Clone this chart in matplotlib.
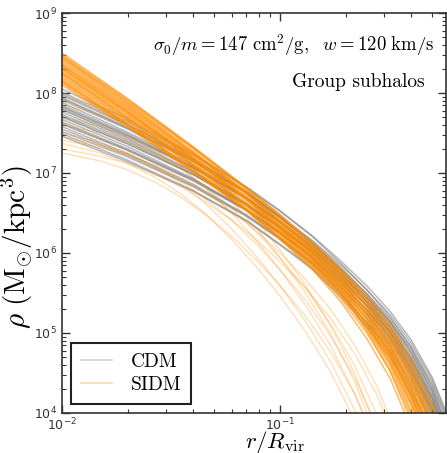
import numpy as np
import matplotlib
matplotlib.use("Agg")
from matplotlib import pyplot as plt
from matplotlib.lines import Line2D

radii = [0.01, 0.02, 0.04, 0.07, 0.1, 0.14, 0.19, 0.25, 0.32, 0.4, 0.5, 0.62]
cored_radii = [0.01, 0.015, 0.02, 0.027, 0.035, 0.045, 0.06, 0.08, 0.1,
               0.13, 0.17, 0.22, 0.28, 0.36]

# log10 density (Msun/kpc^3), CDM subhalos
cdm_logrho = [
    [8.05, 7.67, 7.24, 6.83, 6.53, 6.22, 5.90, 5.59, 5.27, 4.91, 4.44, 3.81],
    [7.97, 7.60, 7.17, 6.77, 6.46, 6.16, 5.85, 5.54, 5.23, 4.87, 4.41, 3.78],
    [7.94, 7.57, 7.16, 6.76, 6.45, 6.15, 5.82, 5.49, 5.15, 4.76, 4.28, 3.63],
    [7.88, 7.51, 7.10, 6.70, 6.40, 6.10, 5.79, 5.49, 5.18, 4.83, 4.37, 3.75],
    [7.85, 7.49, 7.08, 6.69, 6.39, 6.09, 5.76, 5.44, 5.11, 4.72, 4.24, 3.60],
    [7.82, 7.47, 7.07, 6.68, 6.39, 6.07, 5.73, 5.39, 5.03, 4.62, 4.12, 3.45],
    [7.79, 7.43, 7.02, 6.62, 6.33, 6.04, 5.74, 5.44, 5.14, 4.79, 4.34, 3.72],
    [7.76, 7.41, 7.01, 6.61, 6.32, 6.03, 5.71, 5.39, 5.06, 4.69, 4.21, 3.57],
    [7.73, 7.39, 6.99, 6.60, 6.32, 6.01, 5.68, 5.34, 4.99, 4.58, 4.09, 3.42],
    [7.67, 7.33, 6.93, 6.55, 6.26, 5.97, 5.65, 5.34, 5.02, 4.65, 4.17, 3.54],
    [7.64, 7.30, 6.92, 6.54, 6.25, 5.95, 5.62, 5.29, 4.94, 4.54, 4.05, 3.39],
    [7.61, 7.28, 6.90, 6.53, 6.24, 5.94, 5.59, 5.23, 4.87, 4.44, 3.92, 3.24],
    [7.58, 7.24, 6.86, 6.48, 6.19, 5.89, 5.57, 5.24, 4.90, 4.50, 4.01, 3.36],
    [7.55, 7.22, 6.84, 6.47, 6.18, 5.88, 5.54, 5.18, 4.82, 4.40, 3.89, 3.21],
    [7.49, 7.16, 6.78, 6.41, 6.11, 5.82, 5.48, 5.13, 4.78, 4.36, 3.85, 3.18],
    [7.46, 7.14, 6.77, 6.40, 6.10, 5.80, 5.45, 5.08, 4.70, 4.25, 3.72, 3.03],
    [7.52, 7.20, 6.83, 6.46, 6.17, 5.86, 5.51, 5.13, 4.75, 4.29, 3.76, 3.06],
    [7.80, 7.45, 7.06, 6.68, 6.38, 6.06, 5.70, 5.33, 4.96, 4.52, 3.99, 3.30],
    [7.91, 7.55, 7.14, 6.75, 6.45, 6.13, 5.79, 5.44, 5.08, 4.66, 4.16, 3.48],
    [8.01, 7.64, 7.22, 6.82, 6.52, 6.21, 5.87, 5.54, 5.20, 4.81, 4.31, 3.66],
    [7.70, 7.36, 6.98, 6.60, 6.31, 6.00, 5.65, 5.28, 4.92, 4.48, 3.96, 3.27],
    [7.99, 7.61, 7.18, 6.77, 6.44, 6.12, 5.76, 5.38, 5.01, 4.56, 4.03, 3.33],
    [7.93, 7.56, 7.15, 6.75, 6.44, 6.13, 5.80, 5.47, 5.13, 4.75, 4.27, 3.63],
    [7.83, 7.47, 7.07, 6.68, 6.38, 6.07, 5.74, 5.41, 5.07, 4.68, 4.19, 3.54],
    [7.71, 7.37, 6.98, 6.60, 6.31, 6.01, 5.68, 5.35, 5.01, 4.61, 4.12, 3.46],
    [7.62, 7.29, 6.91, 6.54, 6.25, 5.95, 5.62, 5.29, 4.95, 4.55, 4.06, 3.40],
]

# log10 density, SIDM subhalos with steep (collapsed) centres
sidm_logrho = [
    [8.50, 7.93, 7.33, 6.82, 6.48, 6.14, 5.81, 5.48, 5.11, 4.67, 4.11, 3.45],
    [8.48, 7.92, 7.32, 6.81, 6.47, 6.13, 5.78, 5.43, 5.04, 4.57, 3.98, 3.30],
    [8.46, 7.90, 7.31, 6.81, 6.47, 6.11, 5.75, 5.38, 4.96, 4.46, 3.86, 3.15],
    [8.44, 7.87, 7.27, 6.76, 6.41, 6.08, 5.76, 5.43, 5.07, 4.63, 4.08, 3.42],
    [8.42, 7.86, 7.26, 6.76, 6.40, 6.07, 5.73, 5.38, 5.00, 4.53, 3.95, 3.27],
    [8.40, 7.84, 7.25, 6.75, 6.40, 6.05, 5.70, 5.33, 4.92, 4.42, 3.83, 3.12],
    [8.38, 7.83, 7.24, 6.74, 6.39, 6.04, 5.67, 5.27, 4.85, 4.32, 3.70, 2.97],
    [8.36, 7.81, 7.23, 6.74, 6.38, 6.02, 5.64, 5.22, 4.77, 4.21, 3.57, 2.82],
    [8.34, 7.78, 7.19, 6.69, 6.34, 6.01, 5.67, 5.33, 4.95, 4.49, 3.91, 3.24],
    [8.32, 7.77, 7.18, 6.69, 6.34, 5.99, 5.64, 5.28, 4.87, 4.38, 3.79, 3.09],
    [8.30, 7.75, 7.17, 6.68, 6.33, 5.98, 5.61, 5.22, 4.80, 4.28, 3.66, 2.94],
    [8.28, 7.74, 7.16, 6.67, 6.32, 5.96, 5.58, 5.17, 4.72, 4.17, 3.53, 2.79],
    [8.26, 7.72, 7.15, 6.67, 6.31, 5.94, 5.54, 5.10, 4.62, 4.03, 3.36, 2.59],
    [8.31, 7.76, 7.18, 6.68, 6.30, 5.92, 5.50, 5.03, 4.52, 3.89, 3.19, 2.39],
    [8.24, 7.69, 7.11, 6.61, 6.27, 5.93, 5.59, 5.23, 4.83, 4.34, 3.75, 3.06],
    [8.22, 7.68, 7.10, 6.61, 6.26, 5.92, 5.56, 5.17, 4.75, 4.24, 3.63, 2.91],
    [8.20, 7.66, 7.09, 6.60, 6.25, 5.90, 5.53, 5.12, 4.68, 4.13, 3.50, 2.76],
    [8.18, 7.65, 7.08, 6.59, 6.24, 5.88, 5.49, 5.05, 4.58, 3.99, 3.33, 2.56],
    [8.16, 7.62, 7.04, 6.55, 6.20, 5.86, 5.50, 5.12, 4.71, 4.20, 3.59, 2.88],
    [8.14, 7.60, 7.03, 6.54, 6.19, 5.84, 5.47, 5.07, 4.63, 4.09, 3.46, 2.73],
    [8.12, 7.59, 7.02, 6.54, 6.18, 5.82, 5.43, 5.00, 4.53, 3.95, 3.29, 2.53],
    [8.10, 7.57, 7.01, 6.53, 6.17, 5.80, 5.39, 4.93, 4.43, 3.81, 3.12, 2.33],
    [8.45, 7.89, 7.30, 6.79, 6.44, 6.09, 5.73, 5.35, 4.94, 4.44, 3.84, 3.14],
    [8.35, 7.80, 7.21, 6.71, 6.36, 6.01, 5.64, 5.25, 4.83, 4.31, 3.70, 2.98],
    [8.25, 7.70, 7.13, 6.64, 6.29, 5.94, 5.57, 5.18, 4.75, 4.22, 3.60, 2.88],
    [8.15, 7.61, 7.05, 6.56, 6.22, 5.87, 5.50, 5.10, 4.66, 4.12, 3.49, 2.76],
]

# log10 density, SIDM subhalos with a flat core (the faint strays)
sidm_cored_logrho = [
    [7.25, 7.15, 7.04, 6.88, 6.70, 6.49, 6.21, 5.88, 5.59, 5.22, 4.77, 4.24, 3.61, 2.74],
    [7.37, 7.25, 7.12, 6.94, 6.74, 6.50, 6.17, 5.79, 5.46, 5.03, 4.52, 3.91, 3.19, 2.18],
    [7.41, 7.32, 7.23, 7.09, 6.94, 6.76, 6.52, 6.25, 6.00, 5.68, 5.30, 4.85, 4.32, 3.57],
    [7.50, 7.38, 7.25, 7.07, 6.87, 6.63, 6.30, 5.92, 5.59, 5.16, 4.65, 4.04, 3.32, 2.31],
    [7.60, 7.50, 7.39, 7.23, 7.05, 6.84, 6.56, 6.23, 5.94, 5.57, 5.12, 4.59, 3.96, 3.09],
    [7.70, 7.58, 7.45, 7.27, 7.07, 6.83, 6.50, 6.12, 5.79, 5.36, 4.85, 4.24, 3.52, 2.51],
    [7.85, 7.73, 7.60, 7.42, 7.22, 6.98, 6.65, 6.27, 5.94, 5.51, 5.00, 4.39, 3.67, 2.66],
    [7.30, 7.21, 7.12, 6.98, 6.83, 6.65, 6.41, 6.14, 5.89, 5.57, 5.19, 4.74, 4.21, 3.46],
    [7.45, 7.35, 7.24, 7.08, 6.90, 6.69, 6.41, 6.08, 5.79, 5.42, 4.97, 4.44, 3.81, 2.94],
    [7.95, 7.83, 7.70, 7.52, 7.32, 7.08, 6.75, 6.37, 6.04, 5.61, 5.10, 4.49, 3.77, 2.76],
]

plt.rcParams['mathtext.fontset'] = 'cm'
plt.rcParams['font.family'] = 'DejaVu Sans'

cdm_color = 'gray'
sidm_color = 'darkorange'

fig = plt.figure(figsize=(4.47, 4.53), dpi=100)
ax = fig.add_axes([62 / 447, 1 - 413 / 453, 383.5 / 447, 400 / 453])

for row in cdm_logrho:
    ax.plot(radii, 10 ** np.array(row), color=cdm_color, alpha=0.55, lw=1.1)
for row in sidm_logrho:
    ax.plot(radii, 10 ** np.array(row), color=sidm_color, alpha=0.6, lw=1.1)
for row in sidm_cored_logrho:
    ax.plot(cored_radii, 10 ** np.array(row), color=sidm_color, alpha=0.28, lw=1.0)

ax.set_xscale('log')
ax.set_yscale('log')
ax.set_xlim(0.01, 0.574)
ax.set_ylim(1e4, 1e9)

ax.tick_params(which='both', direction='in', top=True, right=True,
               labelsize=9, labelcolor='#333333', color='#333333')
ax.tick_params(which='major', length=6, width=1)
ax.tick_params(which='minor', length=3, width=0.8)
ax.tick_params(axis='x', pad=2.5)
for sp in ax.spines.values():
    sp.set_color('#333333')
    sp.set_linewidth(1.2)

ax.set_xlabel(r'$r/R_{\rm vir}$', fontsize=16.5)
ax.xaxis.set_label_coords(0.555, -0.04)
ax.set_ylabel(r'$\rho\ (\mathrm{M}_{\odot}/\mathrm{kpc}^3)$', fontsize=21)
ax.yaxis.set_label_coords(-0.07, 0.415)

ax.text(0.972, 0.92, r'$\sigma_0/m = 147\ \mathrm{cm}^2/\mathrm{g},\ \ w = 120\ \mathrm{km/s}$',
        transform=ax.transAxes, ha='right', va='center', fontsize=13.5)
ax.text(0.945, 0.8275, 'Group subhalos', family='cmr10',
        transform=ax.transAxes, ha='right', va='center', fontsize=14)

handles = [Line2D([], [], color=cdm_color, alpha=0.35, lw=1.2),
           Line2D([], [], color=sidm_color, alpha=0.35, lw=1.2)]
leg = ax.legend(handles, ['CDM', 'SIDM'], loc='lower left',
                bbox_to_anchor=(0.023, 0.0225), borderaxespad=0,
                prop={'family': 'cmr10', 'size': 14}, fancybox=False,
                framealpha=1, edgecolor='#222222', handlelength=1.6,
                handletextpad=1.0, labelspacing=0.3, borderpad=0.5)
leg.get_frame().set_linewidth(1.5)

fig.savefig('out.png', dpi=100)
